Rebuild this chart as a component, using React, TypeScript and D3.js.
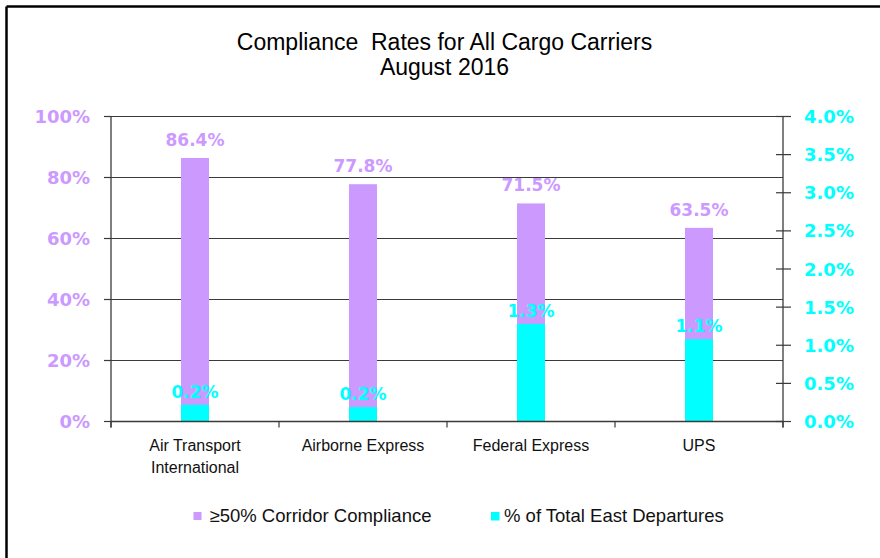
import React from "react";
import * as d3 from "d3";

const categories: string[][] = [
  ["Air Transport", "International"],
  ["Airborne Express"],
  ["Federal Express"],
  ["UPS"],
];
const complianceValues = [86.4, 77.8, 71.5, 63.5];
const departureValues = [0.22, 0.19, 1.28, 1.08];
const leftTicks = [0, 20, 40, 60, 80, 100];
const rightTicks = [0, 0.5, 1, 1.5, 2, 2.5, 3, 3.5, 4];
const titleLines = ["Compliance  Rates for All Cargo Carriers", "August 2016"];
const legendLabels = ["≥50% Corridor Compliance", "% of Total East Departures"];

const PURPLE = "#CC99FF";
const CYAN = "#00FFFF";
const AXIS = "#3a3a3a";
const W = 880;
const H = 558;
const M = { left: 111, right: 783, top: 116.5, bottom: 421.5 };
const BAR_W = 28;
const SANS = "'Liberation Sans', Arial, sans-serif";
const BOLD = "'DejaVu Sans', Verdana, sans-serif";

export default function App() {
  const keys = categories.map((c) => c.join(" "));
  const x = d3.scaleBand<string>().domain(keys).range([M.left, M.right]).padding(0);
  const yL = d3.scaleLinear().domain([0, 100]).range([M.bottom, M.top]);
  const yR = d3.scaleLinear().domain([0, 4]).range([M.bottom, M.top]);
  const cx = (i: number) => (x(keys[i]) as number) + x.bandwidth() / 2;
  const bounds = [...keys.map((k) => x(k) as number), M.right];

  return (
    <svg
      width={W}
      height={H}
      style={{ position: "absolute", left: 0, top: 0, background: "#fff" }}
    >
      <rect x={0} y={0} width={W} height={H} fill="#fff" />
      {/* outer frame */}
      <line x1={6.5} y1={6.5} x2={W} y2={6.5} stroke="#000" strokeWidth={2.5} />
      <line x1={6.5} y1={6.5} x2={6.5} y2={H} stroke="#000" strokeWidth={2.5} />

      {/* title */}
      {titleLines.map((t, i) => (
        <text
          key={i}
          x={444.5}
          y={50 + i * 25}
          textAnchor="middle"
          fontFamily={SANS}
          fontSize={23}
          fill="#000"
          style={{ whiteSpace: "pre" }}
        >
          {t}
        </text>
      ))}

      {/* gridlines + left ticks */}
      {leftTicks.map((t) => (
        <g key={"l" + t}>
          {t > 0 && (
            <line x1={M.left} x2={M.right} y1={yL(t)} y2={yL(t)} stroke={AXIS} strokeWidth={1.2} />
          )}
          <line x1={M.left - 7} x2={M.left} y1={yL(t)} y2={yL(t)} stroke={AXIS} strokeWidth={1.2} />
          <text
            x={90}
            y={yL(t) + 6.5}
            textAnchor="end"
            fontFamily={BOLD}
            fontWeight="bold"
            fontSize={18}
            fill={PURPLE}
          >
            {t + "%"}
          </text>
        </g>
      ))}

      {/* right ticks */}
      {rightTicks.map((t) => (
        <g key={"r" + t}>
          <line x1={M.right - 7} x2={M.right + 8} y1={yR(t)} y2={yR(t)} stroke={AXIS} strokeWidth={1.2} />
          <text
            x={804}
            y={yR(t) + 6.5}
            textAnchor="start"
            fontFamily={BOLD}
            fontWeight="bold"
            fontSize={18}
            fill={CYAN}
          >
            {t.toFixed(1) + "%"}
          </text>
        </g>
      ))}

      {/* bars */}
      {complianceValues.map((v, i) => (
        <rect
          key={"p" + i}
          x={cx(i) - BAR_W / 2}
          y={yL(v)}
          width={BAR_W}
          height={yL(0) - yL(v)}
          fill={PURPLE}
        />
      ))}
      {departureValues.map((v, i) => (
        <rect
          key={"c" + i}
          x={cx(i) - BAR_W / 2}
          y={yR(v)}
          width={BAR_W}
          height={yR(0) - yR(v)}
          fill={CYAN}
        />
      ))}

      {/* axes */}
      <line x1={M.left} x2={M.left} y1={M.top} y2={M.bottom + 6} stroke={AXIS} strokeWidth={1.3} />
      <line x1={M.right} x2={M.right} y1={M.top} y2={M.bottom + 6} stroke={AXIS} strokeWidth={1.3} />
      <line x1={M.left} x2={M.right} y1={M.bottom} y2={M.bottom} stroke={AXIS} strokeWidth={1.3} />
      {bounds.map((b, i) => (
        <line key={"xt" + i} x1={b} x2={b} y1={M.bottom} y2={M.bottom + 6} stroke={AXIS} strokeWidth={1.2} />
      ))}

      {/* data labels */}
      {complianceValues.map((v, i) => (
        <text
          key={"pl" + i}
          x={cx(i)}
          y={yL(v) - 12}
          textAnchor="middle"
          fontFamily={BOLD}
          fontWeight="bold"
          fontSize={17}
          fill={PURPLE}
        >
          {v.toFixed(1) + "%"}
        </text>
      ))}
      {departureValues.map((v, i) => (
        <text
          key={"cl" + i}
          x={cx(i)}
          y={yR(v) - 7}
          textAnchor="middle"
          fontFamily={BOLD}
          fontWeight="bold"
          fontSize={17}
          fill={CYAN}
        >
          {v.toFixed(1) + "%"}
        </text>
      ))}

      {/* category labels */}
      {categories.map((lines, i) =>
        lines.map((ln, j) => (
          <text
            key={"cat" + i + j}
            x={cx(i)}
            y={451 + j * 22}
            textAnchor="middle"
            fontFamily={SANS}
            fontSize={16}
            fill="#111"
          >
            {ln}
          </text>
        ))
      )}

      {/* legend */}
      <rect x={193.5} y={512} width={8} height={8} fill={PURPLE} />
      <text x={209.5} y={522} fontFamily={SANS} fontSize={18.5} fill="#111">
        {legendLabels[0]}
      </text>
      <rect x={491} y={512} width={8.5} height={8.5} fill={CYAN} />
      <text x={504} y={522} fontFamily={SANS} fontSize={18.5} fill="#111">
        {legendLabels[1]}
      </text>
    </svg>
  );
}
